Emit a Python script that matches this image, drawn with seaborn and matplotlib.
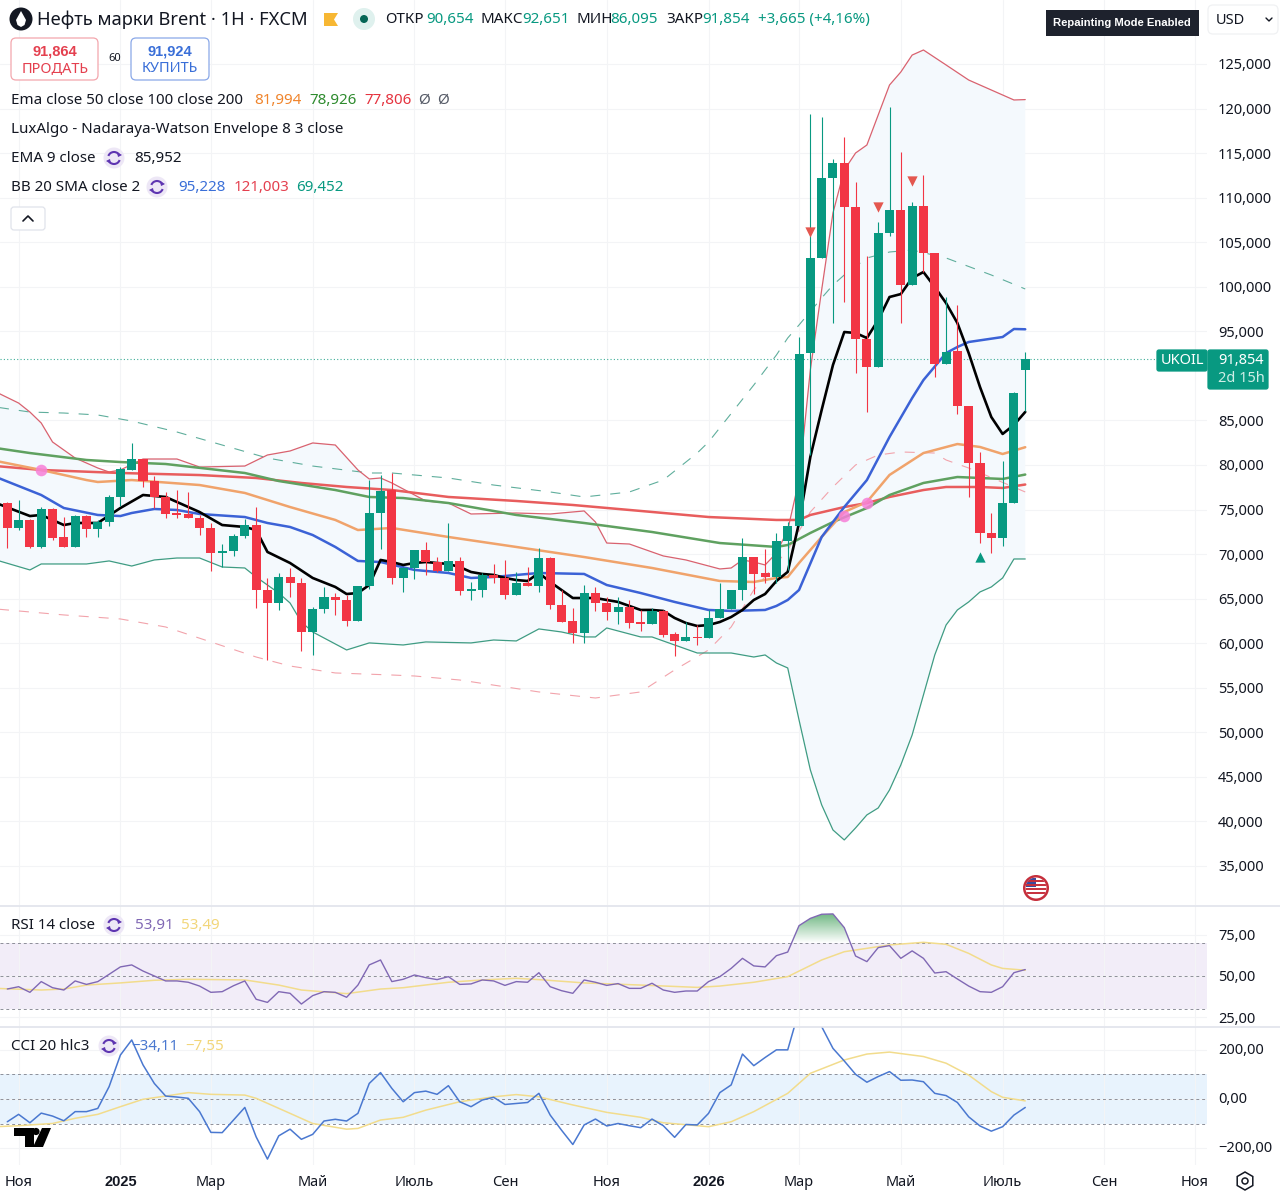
import numpy as np
import pandas as pd
import seaborn as sns
import matplotlib.pyplot as plt
from matplotlib.colors import LinearSegmentedColormap
from matplotlib.patches import Arc, Circle, FancyBboxPatch, Polygon, Rectangle, RegularPolygon
from matplotlib.transforms import ScaledTranslation

# candles, thousands USD
opens = [75.70, 72.89, 73.83, 70.83, 75.02, 71.88, 70.83, 74.28, 72.82, 73.64, 76.45, 79.44, 80.64, 78.20, 76.37, 74.58,
         74.46, 74.09, 72.89, 70.16, 70.39, 72.03, 73.27, 65.97, 64.55, 67.47, 66.79, 61.29, 63.80, 65.15, 64.85, 62.53,
         66.42, 74.58, 77.19, 67.27, 68.40, 70.45, 69.15, 68.14, 69.26, 65.89, 65.96, 67.65, 67.27, 65.40, 66.71, 66.45,
         69.52, 64.28, 62.49, 61.10, 65.67, 64.54, 63.50, 64.09, 62.34, 62.11, 63.65, 60.99, 60.24, 60.65, 60.54, 62.86,
         63.83, 65.97, 69.71, 67.84, 67.46, 71.50, 73.15, 92.53, 103.19, 112.24, 113.92, 108.91, 94.13, 90.95, 106.00,
         108.61, 100.20, 109.06, 103.82, 91.33, 92.82, 86.61, 80.18, 72.40, 71.76, 75.77, 90.654]
highs = [75.88, 76.07, 73.90, 75.30, 75.14, 74.20, 74.40, 74.40, 73.83, 76.63, 79.74, 82.50, 80.64, 78.77, 77.00, 77.20,
         77.00, 74.40, 73.45, 71.13, 72.26, 73.90, 75.30, 67.28, 67.92, 68.40, 67.28, 64.10, 66.34, 65.60, 65.41, 66.42,
         78.30, 78.88, 79.06, 68.60, 70.45, 71.39, 69.71, 73.45, 69.63, 66.90, 67.84, 68.88, 69.33, 68.02, 68.58, 70.64,
         69.71, 65.97, 63.91, 66.53, 66.34, 65.14, 65.22, 64.84, 63.72, 63.91, 63.72, 61.29, 62.41, 62.04, 63.72, 66.71,
         65.97, 71.76, 69.71, 70.53, 72.32, 73.60, 94.40, 119.39, 119.01, 114.30, 116.84, 111.79, 103.45, 107.30, 120.21,
         115.16, 109.55, 112.54, 103.82, 98.88, 97.95, 86.61, 81.49, 74.64, 80.48, 88.20, 92.651]
lows = [70.65, 72.70, 70.65, 70.65, 71.58, 70.83, 70.83, 71.88, 71.88, 73.19, 75.40, 79.44, 77.50, 75.14, 74.00, 74.00,
        74.09, 72.14, 68.14, 68.59, 69.82, 71.77, 63.91, 58.11, 63.73, 65.15, 59.16, 58.68, 63.35, 63.20, 61.93, 62.53,
        66.05, 70.54, 66.64, 65.78, 67.16, 67.65, 68.00, 68.14, 65.40, 64.84, 65.14, 66.71, 64.92, 65.40, 66.41, 65.78,
        63.79, 62.41, 60.05, 59.98, 63.65, 62.60, 62.15, 61.66, 61.40, 62.11, 60.65, 58.56, 60.24, 59.79, 60.54, 62.86,
        63.83, 64.84, 65.52, 66.79, 66.71, 68.20, 73.15, 81.12, 103.19, 95.89, 98.32, 90.28, 85.98, 90.95, 105.70,
        95.97, 100.20, 101.69, 89.83, 91.33, 85.72, 76.44, 71.28, 70.08, 70.90, 75.77, 86.095]
closes = [72.89, 73.83, 70.83, 75.02, 71.84, 70.83, 74.28, 72.82, 73.64, 76.45, 79.51, 80.64, 78.20, 76.37, 74.46, 74.39,
          74.09, 72.89, 70.16, 70.39, 72.03, 73.27, 65.97, 64.47, 67.47, 66.79, 61.29, 63.80, 65.15, 64.85, 62.53, 66.42,
          74.58, 77.08, 67.27, 68.40, 70.45, 69.15, 68.14, 69.26, 65.89, 66.04, 67.65, 67.27, 65.40, 66.71, 66.41, 69.52,
          64.28, 62.41, 61.10, 65.59, 64.47, 63.50, 64.02, 62.22, 62.11, 63.65, 60.91, 60.24, 60.65, 60.54, 62.86, 63.83,
          65.97, 69.71, 67.76, 67.46, 71.46, 73.15, 92.45, 103.19, 112.24, 113.92, 108.91, 94.13, 90.95, 106.07, 108.61,
          100.20, 109.06, 103.82, 91.33, 92.71, 86.61, 80.18, 72.40, 71.76, 75.77, 88.04, 91.854]

# overlays: bar number and level
ema9_x = [-1, 2, 3, 5, 6, 8, 10, 12, 13, 14, 17, 19, 21, 22, 23, 25, 27, 29, 30, 31, 32, 33, 34, 35, 36, 37, 38, 39, 40, 41,
          42, 43, 44, 45, 46, 47, 48, 49, 50, 51, 52, 53, 54, 55, 56, 57, 58, 59, 60, 61, 62, 63, 64, 65, 66, 67, 68, 69,
          70, 71, 72, 73, 74, 75, 76, 77, 78, 79, 80, 81, 82, 83, 84, 85, 86, 87, 88, 89, 90]
ema9_y = [75.73, 74.27, 74.39, 73.26, 73.49, 73.49, 75.17, 76.63, 76.52, 76.41, 74.72, 73.26, 73.04, 72.70, 70.24, 69.00,
          67.32, 66.31, 65.52, 65.63, 66.53, 69.34, 69.11, 68.78, 69.00, 69.11, 69.00, 68.89, 68.55, 67.99, 67.77, 67.66,
          67.32, 67.09, 66.98, 67.88, 66.87, 65.97, 65.07, 65.07, 65.07, 64.85, 64.63, 64.18, 63.73, 63.73, 63.62, 62.83,
          62.27, 61.93, 62.04, 62.38, 62.94, 63.73, 64.85, 65.52, 66.98, 68.00, 73.49, 80.90, 86.17, 91.22, 94.92, 94.81,
          94.25, 96.27, 98.85, 99.18, 100.98, 101.65, 99.97, 98.17, 95.93, 92.56, 88.75, 85.38, 83.48, 84.49, 85.952]
ema50_x = [-1, 3, 7, 8, 11, 17, 21, 25, 29, 31, 34, 39, 45, 51, 57, 63, 66, 68, 69, 70, 72, 74, 76, 78, 81, 84, 86, 88, 90]
ema50_y = [80.45, 79.44, 78.31, 78.09, 78.31, 77.75, 76.86, 75.28, 73.83, 72.70, 72.93, 71.92, 70.80, 69.67, 68.44, 66.98,
           66.87, 67.32, 67.43, 69.00, 71.92, 74.72, 75.85, 78.88, 81.34, 82.35, 82.02, 81.23, 81.994]
ema100_x = [-1, 2, 7, 10, 14, 21, 24, 29, 32, 35, 39, 45, 51, 57, 63, 68, 69, 71, 73, 76, 78, 81, 84, 86, 88, 90]
ema100_y = [81.90, 81.34, 80.56, 80.33, 80.11, 79.10, 78.20, 77.19, 76.41, 76.29, 75.73, 74.39, 73.49, 72.48, 71.24, 70.80,
            71.02, 72.37, 73.60, 75.17, 76.63, 77.98, 78.65, 78.54, 78.43, 78.926]
ema200_x = [-1, 3, 10, 17, 22, 26, 30, 34, 39, 45, 50, 56, 62, 68, 70, 71, 74, 76, 78, 81, 83, 86, 88, 90]
ema200_y = [79.88, 79.44, 79.10, 78.87, 78.54, 77.98, 77.53, 77.19, 76.41, 75.96, 75.51, 74.84, 74.16, 73.83, 73.83, 74.39,
            75.28, 75.73, 76.41, 77.19, 77.53, 77.53, 77.42, 77.806]
bb_mid_x = [-1, 3, 5, 8, 10, 11, 13, 15, 17, 21, 23, 25, 27, 29, 31, 33, 36, 39, 41, 43, 47, 51, 53, 56, 59, 62, 64, 67, 68,
            69, 70, 72, 74, 76, 78, 80, 81, 83, 84, 85, 88, 89, 90]
bb_mid_y = [78.65, 76.63, 75.17, 74.39, 74.27, 74.61, 75.06, 74.95, 74.50, 74.16, 73.49, 73.04, 72.14, 70.80, 69.23, 69.11,
            68.22, 67.88, 67.32, 67.43, 67.88, 67.77, 66.53, 65.63, 64.63, 63.73, 63.62, 63.73, 64.18, 64.85, 65.97, 71.92,
            75.28, 78.31, 83.14, 87.51, 89.53, 92.56, 93.24, 93.80, 94.36, 95.26, 95.228]
bb_up_x = [-1, 1, 2, 3, 4, 6, 8, 9, 10, 12, 15, 17, 21, 23, 25, 27, 29, 31, 32, 33, 34, 37, 39, 41, 45, 48, 51, 52, 53, 55,
           58, 60, 63, 64, 65, 66, 67, 68, 69, 70, 71, 72, 73, 74, 75, 76, 78, 79, 80, 81, 83, 85, 88, 89, 90]
bb_up_y = [88.19, 86.95, 85.94, 84.71, 82.58, 80.78, 79.66, 79.21, 79.44, 80.67, 80.67, 79.77, 79.88, 81.12, 81.57, 82.47,
           82.24, 79.44, 78.43, 78.54, 77.98, 75.96, 75.73, 74.50, 74.61, 74.50, 74.84, 73.60, 71.24, 71.13, 69.79, 69.34,
           68.33, 68.44, 69.34, 69.11, 68.78, 70.12, 72.70, 78.31, 90.66, 99.64, 108.28, 113.10, 115.01, 115.91, 122.64,
           124.10, 126.00, 126.57, 124.89, 123.20, 121.52, 120.96, 121.003]
bb_lo_x = [-1, 2, 3, 7, 9, 11, 13, 15, 17, 19, 21, 22, 24, 25, 26, 27, 30, 32, 35, 37, 41, 43, 45, 47, 49, 51, 52, 53, 56, 57,
           59, 61, 64, 66, 67, 68, 69, 70, 71, 72, 73, 74, 75, 76, 77, 78, 79, 80, 81, 82, 83, 84, 85, 86, 87, 88, 89, 90]
bb_lo_y = [69.34, 68.22, 68.89, 68.89, 69.23, 68.66, 69.34, 69.56, 69.56, 68.55, 68.44, 67.43, 65.63, 64.51, 62.38, 61.26,
           59.24, 60.03, 59.80, 60.14, 60.03, 60.36, 60.25, 61.60, 61.26, 60.70, 60.70, 61.71, 60.70, 60.70, 59.80, 58.90,
           58.90, 58.45, 58.68, 57.78, 57.22, 51.39, 45.78, 41.86, 39.04, 37.92, 39.27, 40.73, 41.51, 43.53, 46.34, 49.70,
           54.19, 58.68, 62.04, 63.73, 64.63, 65.75, 66.31, 67.32, 69.45, 69.452]
nw_up_x = [-1, 2, 5, 8, 11, 15, 19, 23, 27, 32, 34, 39, 43, 48, 51, 55, 58, 61, 62, 66, 68, 69, 70, 72, 73, 74, 76, 78, 80, 83,
           87, 90]
nw_up_y = [86.50, 85.94, 85.83, 85.61, 84.93, 83.70, 82.24, 80.78, 79.88, 79.10, 79.10, 78.54, 77.75, 76.97, 76.41, 76.97,
           78.31, 81.34, 82.58, 88.97, 92.34, 94.25, 95.71, 98.74, 100.20, 101.32, 103.23, 103.90, 104.12, 103.23, 101.32,
           99.75]
nw_lo_x = [-1, 5, 10, 14, 18, 22, 25, 29, 34, 36, 40, 47, 52, 56, 59, 62, 64, 66, 69, 71, 73, 75, 77, 79, 82, 83, 85, 90]
nw_lo_y = [63.84, 63.17, 62.72, 61.82, 60.14, 58.45, 57.44, 56.66, 56.43, 56.32, 55.87, 54.53, 53.85, 54.53, 57.00, 59.24,
           61.82, 65.97, 70.46, 74.72, 77.53, 80.00, 81.12, 81.46, 81.34, 80.56, 79.66, 76.97]

cross_x = [3, 74, 76]
cross_y = [79.44, 74.27, 75.73]
sell_x = [71, 77, 80]
sell_y = [106.14, 108.95, 111.87]
buy_x = [86]
buy_y = [69.67]

rsi = [42.1, 43.5, 40.1, 46.6, 42.9, 41.5, 47.0, 44.9, 46.6, 51.0, 55.5, 56.7, 53.0, 50.0, 47.0, 47.0, 46.2, 43.9, 40.1, 40.5,
       44.1, 47.0, 35.9, 34.0, 40.5, 39.5, 33.0, 38.1, 40.5, 40.1, 37.1, 44.5, 56.7, 59.7, 46.6, 48.0, 50.6, 49.0, 47.8, 49.6,
       44.9, 45.2, 47.6, 47.0, 44.3, 46.6, 46.2, 52.0, 43.5, 41.1, 39.5, 47.6, 46.2, 44.3, 45.4, 42.5, 42.5, 45.6, 41.5, 40.1,
       40.9, 40.9, 46.6, 49.6, 54.6, 60.7, 56.1, 55.5, 62.3, 64.5, 80.5, 84.9, 87.4, 87.6, 79.3, 62.1, 58.7, 67.2, 68.4, 60.7,
       65.2, 60.7, 51.8, 52.6, 48.2, 43.9, 40.5, 40.1, 43.5, 52.0, 53.91]
rsi_ma_x = [-1, 3, 5, 7, 10, 13, 16, 21, 24, 26, 30, 33, 35, 39, 42, 45, 47, 51, 56, 61, 63, 66, 69, 72, 74, 78, 81, 83, 85, 87,
            88, 90]
rsi_ma_y = [42.5, 41.5, 42.1, 44.5, 45.8, 47.4, 48.0, 47.6, 44.5, 41.5, 39.3, 42.1, 42.9, 46.2, 47.6, 48.6, 47.8, 45.8, 44.5,
            43.1, 43.9, 46.2, 49.6, 59.7, 64.7, 68.8, 70.4, 69.2, 63.7, 56.7, 54.6, 53.49]
cci = [-92, -62, -96, -57, -69, -88, -51, -51, -38, 50, 178, 239, 138, 63, 12, 8, 3, -51, -135, -136, -85, -34, -153, -243,
       -149, -122, -163, -143, -89, -82, -89, -58, 63, 107, 43, -11, 26, 32, 19, 54, -11, -31, -4, 7, -22, -18, -14, 23, -65,
       -126, -184, -105, -81, -109, -99, -108, -116, -81, -108, -155, -103, -105, -58, 26, 57, 182, 135, 168, 199, 199, 358,
       380, 293, 205, 154, 100, 68, 91, 111, 76, 77, 70, 23, 14, -14, -72, -109, -130, -112, -65, -34.11]
cci_ma_x = [-1, 1, 4, 6, 8, 10, 12, 14, 16, 18, 21, 22, 25, 27, 30, 31, 33, 35, 37, 40, 43, 45, 47, 50, 53, 56, 58, 62, 64, 66,
            69, 71, 74, 76, 78, 81, 83, 85, 87, 88, 90]
cci_ma_y = [-112, -108, -99, -78, -62, -31, -1, 12, 26, 19, 16, 3, -58, -99, -122, -119, -85, -74, -45, -11, 9, 18, 9, -24,
            -54, -74, -96, -112, -92, -51, 23, 104, 158, 182, 190, 172, 145, 97, 30, 7, -7.55]

price_ticks = [125, 120, 115, 110, 105, 100, 95, 85, 80, 75, 70, 65, 60, 55, 50, 45, 40, 35]
month_pos = [1, 10, 18, 27, 36, 44, 53, 62, 70, 79, 88, 97, 105]
month_labels = ["Ноя", "2025", "Мар", "Май", "Июль", "Сен", "Ноя", "2026", "Мар", "Май", "Июль", "Сен", "Ноя"]

sns.set_theme(style="white")
plt.rcParams["font.family"] = ["Noto Sans", "DejaVu Sans"]

W, H = 1280, 1198
PANEL_W = 1207
fig = plt.figure(figsize=(W / 100, H / 100), dpi=100)
UP, DOWN = "#089981", "#f23645"
TXT = "#131722"
GRID = "#f3f4f6"
XLIM = (-0.645, 106.07)
BOLD = "Liberation Sans"


def panel(top, bottom):
    return fig.add_axes([0, 1 - bottom / H, PANEL_W / W, (bottom - top) / H])


def line(ax, xs, ys, color, lw, **kw):
    sns.lineplot(x=xs, y=ys, ax=ax, color=color, linewidth=lw, estimator=None, sort=False, legend=False, **kw)


ax = panel(0, 905)
rsi_ax = panel(906, 1026)
cci_ax = panel(1027, 1165)

# main price panel
bars = pd.DataFrame({"o": opens, "h": highs, "l": lows, "c": closes})
bars["x"] = bars.index
bars["color"] = np.where(bars["c"] >= bars["o"], UP, DOWN)

ax.fill(bb_up_x + bb_lo_x[::-1], bb_up_y + bb_lo_y[::-1], color="#f4f9fd", lw=0, zorder=1)
dash = (0, (9, 9))
line(ax, nw_up_x, nw_up_y, "#5fae9c", 0.8, linestyle=dash, zorder=2)
line(ax, nw_lo_x, nw_lo_y, "#f2a3ab", 0.8, linestyle=dash, zorder=2)
line(ax, bb_up_x, bb_up_y, "#d9626f", 0.9, zorder=2)
line(ax, bb_lo_x, bb_lo_y, "#3f9c83", 0.9, zorder=2)
line(ax, ema200_x, ema200_y, "#e85d5d", 1.8, zorder=3)
line(ax, ema100_x, ema100_y, "#5fa160", 1.8, zorder=3)
line(ax, ema50_x, ema50_y, "#f0a36b", 1.8, zorder=3)
line(ax, bb_mid_x, bb_mid_y, "#3b62d6", 1.8, zorder=3)
line(ax, ema9_x, ema9_y, "black", 1.9, zorder=3)
ax.vlines(bars["x"], bars["l"], bars["h"], colors=bars["color"], lw=0.8, zorder=4)
ax.bar(bars["x"], (bars["c"] - bars["o"]).abs(), bottom=bars[["o", "c"]].min(axis=1), width=0.8, color=bars["color"], lw=0, zorder=5)
sns.scatterplot(x=cross_x, y=cross_y, ax=ax, color="#f77fd8", s=70, alpha=0.85, linewidth=0, zorder=6)
sns.scatterplot(x=sell_x, y=sell_y, ax=ax, color="#e4574f", marker="v", s=55, linewidth=0, zorder=6)
sns.scatterplot(x=buy_x, y=buy_y, ax=ax, color=UP, marker="^", s=55, linewidth=0, zorder=6)
ax.axhline(closes[-1], color="#3fae98", lw=0.8, ls=(0, (1, 2)), zorder=2)
ax.set_ylim(30.62, 132.18)
ax.set_yticks(price_ticks)
ax.set_yticklabels([f"{t},000" for t in price_ticks])

# RSI
rsi_x = np.arange(len(rsi))
rsi_ax.axhspan(30, 70, color="#f2edf8", lw=0, zorder=0)
for lev in (70, 50, 30):
    rsi_ax.axhline(lev, color="#8d8f99", lw=0.7, ls=(0, (3, 3)), zorder=1)
rsi_arr = np.array(rsi)
over = rsi_ax.fill_between(rsi_x, 70, rsi_arr, where=rsi_arr > 70, interpolate=True, color="none", lw=0)
greens = LinearSegmentedColormap.from_list("greens", ["#ffffff", "#66b27a"])
im = rsi_ax.imshow(np.linspace(0, 1, 64)[:, None], extent=(68, 76, 70, 89), origin="lower", aspect="auto", cmap=greens, zorder=1)
im.set_clip_path(over.get_paths()[0], transform=rsi_ax.transData)
line(rsi_ax, rsi_x, rsi, "#8068b4", 1.0, zorder=3)
line(rsi_ax, rsi_ma_x, rsi_ma_y, "#f2dc8c", 1.1, zorder=2)
rsi_ax.set_ylim(19.7, 92.4)
rsi_ax.set_yticks([75, 50, 25])
rsi_ax.set_yticklabels(["75,00", "50,00", "25,00"])

# CCI
cci_ax.axhspan(-100, 100, color="#e8f3fd", lw=0, zorder=0)
for lev in (100, 0, -100):
    cci_ax.axhline(lev, color="#8d8f99", lw=0.7, ls=(0, (3, 3)), zorder=1)
line(cci_ax, np.arange(len(cci)), cci, "#4a78d0", 1.1, zorder=3)
line(cci_ax, cci_ma_x, cci_ma_y, "#f2dc8c", 1.1, zorder=2)
cci_ax.set_ylim(-267, 291.5)
cci_ax.set_yticks([200, 0, -200])
cci_ax.set_yticklabels(["200,00", "0,00", "−200,00"])

for a in (ax, rsi_ax, cci_ax):
    a.set_xlim(XLIM)
    a.set(xlabel=None, ylabel=None)
    a.yaxis.tick_right()
    a.tick_params(axis="y", length=0, pad=8, labelsize=10.5, labelcolor=TXT)
    a.set_xticks(month_pos)
    a.grid(True, color=GRID, lw=0.8, zorder=0)
    a.set_axisbelow(True)
    for s in a.spines.values():
        s.set_visible(False)
up_shift = ScaledTranslation(0, 1.5 / 100, fig.dpi_scale_trans)
for a in (rsi_ax, cci_ax):
    for lab in a.get_yticklabels():
        lab.set_transform(lab.get_transform() + up_shift)
ax.tick_params(labelbottom=False, length=0)
rsi_ax.tick_params(labelbottom=False, length=0)
cci_ax.tick_params(axis="x", length=0, pad=7, labelsize=10.5, labelcolor=TXT)
cci_ax.set_xticklabels(month_labels)
for lab in cci_ax.get_xticklabels():
    if lab.get_text().startswith("20"):
        lab.set_family(BOLD)
        lab.set_fontweight("bold")

# chart furniture, drawn in pixel coordinates
ui = fig.add_axes([0, 0, 1, 1], zorder=10)
ui.set_xlim(0, W)
ui.set_ylim(H, 0)
ui.axis("off")


def label(x, y, s, color=TXT, size=10.9, **kw):
    ui.text(x, y + 1.5, s, color=color, fontsize=size, va="center", ha=kw.pop("ha", "left"), **kw)


def refresh(x, y):
    ui.add_patch(Circle((x, y), 10.5, color="#ede7f6", lw=0))
    ui.add_patch(Arc((x, y), 12, 12, theta1=200, theta2=340, color="#5e35b1", lw=1.5))
    ui.add_patch(Arc((x, y), 12, 12, theta1=20, theta2=160, color="#5e35b1", lw=1.5))
    ui.add_patch(Polygon([(x + 3, y - 6), (x + 8, y - 3), (x + 4, y - 1)], color="#5e35b1", lw=0))
    ui.add_patch(Polygon([(x - 3, y + 6), (x - 8, y + 3), (x - 4, y + 1)], color="#5e35b1", lw=0))


def box(x0, y0, x1, y1, edge, face="white", r=5):
    ui.add_patch(FancyBboxPatch((x0, y0), x1 - x0, y1 - y0, boxstyle=f"round,pad=0,rounding_size={r}", ec=edge, fc=face, lw=0.9))


for sep in (905.5, 1026.5):
    ui.plot([0, W], [sep, sep], color="#e0e3eb", lw=1.2)

# title row
ui.add_patch(Circle((21, 19), 11.5, color="#131722", lw=0))
ui.add_patch(Polygon([(21, 11), (26, 20), (24.5, 25), (21, 27), (17.5, 25), (16, 20)], color="white", lw=0))
label(37, 18, "Нефть марки Brent · 1H · FXCM", size=13.2)
ui.add_patch(Polygon([(324, 13), (338, 13), (334, 19.5), (338, 26), (324, 26)], color="#f7b733", lw=0))
ui.add_patch(Circle((364, 19), 11, color="#dff1ee", lw=0))
ui.add_patch(Circle((364, 19), 4, color="#056656", lw=0))
for x, s, c in [(385, "ОТКР", TXT), (426, "90,654", UP), (480, "МАКС", TXT), (522, "92,651", UP), (576, "МИН", TXT),
                (610, "86,095", UP), (666, "ЗАКР", TXT), (702, "91,854", UP), (758, "+3,665 (+4,16%)", UP)]:
    label(x, 18, s, c)

box(11, 38, 98, 80, "#f3a6ad")
label(55, 50, "91,864", "#e4404f", 10.5, ha="center", family=BOLD, fontweight="bold")
label(55, 67, "ПРОДАТЬ", "#e4404f", 10.5, ha="center")
label(115, 57, "60", TXT, 8, ha="center")
box(131, 38, 209, 80, "#8aa8e8")
label(170, 50, "91,924", "#3a6fd8", 10.5, ha="center", family=BOLD, fontweight="bold")
label(170, 67, "КУПИТЬ", "#3a6fd8", 10.5, ha="center")

# legend rows
label(11, 99, "Ema close 50 close 100 close 200")
label(254, 99, "81,994", "#f0852d")
label(309, 99, "78,926", "#2e8b2e")
label(364, 99, "77,806", "#e5333f")
label(418, 99, "Ø", "#555a66")
label(437, 99, "Ø", "#555a66")
label(11, 128, "LuxAlgo - Nadaraya-Watson Envelope 8 3 close")
label(11, 157, "EMA 9 close")
refresh(114, 158)
label(134, 157, "85,952")
label(11, 186, "BB 20 SMA close 2")
refresh(157, 187)
label(178, 186, "95,228", "#3a6fd8")
label(234, 186, "121,003", "#e4404f")
label(296, 186, "69,452", UP)
box(11, 207, 45, 230, "#e0e3eb", r=3)
ui.plot([23, 28, 33], [221, 216, 221], color=TXT, lw=1.2)

# top right
ui.add_patch(Rectangle((1046, 10), 153, 26, color="#1e222d", lw=0))
label(1122, 21.5, "Repainting Mode Enabled", "white", 8.1, ha="center", family=BOLD, fontweight="bold")
box(1208, 5, 1278, 34, "#f0f1f3")
label(1216, 18.5, "USD", TXT, 10.5)
ui.plot([1266, 1269, 1272], [18, 21, 18], color=TXT, lw=1)

# last price tag
box(1157, 350, 1207, 371, UP, UP, r=2)
label(1182, 359, "UKOIL", "white", 10.5, ha="center")
box(1208, 350, 1268, 389, UP, UP, r=2)
label(1241, 359, "91,854", "white", 10.5, ha="center")
label(1241, 376.5, "2d 15h", "#cfeee7", 10.5, ha="center")

# economic calendar flag
ui.add_patch(Circle((1036, 888), 13, color="#c62f3c", lw=0))
disc = Circle((1036, 888), 10.5, color="white", lw=0)
ui.add_patch(disc)
for sy in (881, 885, 889, 893):
    st = ui.plot([1026, 1046], [sy, sy], color="#c62f3c", lw=1.4)[0]
    st.set_clip_path(disc)
cant = Rectangle((1026, 878), 10, 9, color="#3b4a9e", lw=0)
ui.add_patch(cant)
cant.set_clip_path(disc)

# indicator captions
label(11, 924, "RSI 14 close")
refresh(114, 925)
label(135, 924, "53,91", "#8068b4")
label(181, 924, "53,49", "#f2d67a")
label(11, 1045, "CCI 20 hlc3")
refresh(109, 1046)
label(131, 1045, "−34,11", "#4a78d0")
label(185, 1045, "−7,55", "#f2d67a")

# TradingView mark
ui.add_patch(Polygon([(14, 1128), (34, 1128), (34, 1147), (25, 1147), (25, 1136), (14, 1136)], color="#000000", lw=0))
ui.add_patch(Circle((36, 1131.5), 3.6, color="#000000", lw=0))
ui.add_patch(Polygon([(42, 1128), (51, 1128), (43, 1147), (33, 1147)], color="#000000", lw=0))

# settings gear
ui.add_patch(RegularPolygon((1245, 1181), 6, radius=9, fill=False, ec=TXT, lw=1.1))
ui.add_patch(Circle((1245, 1181), 3, fill=False, ec=TXT, lw=1.1))

fig.savefig("out.png", dpi=100)
